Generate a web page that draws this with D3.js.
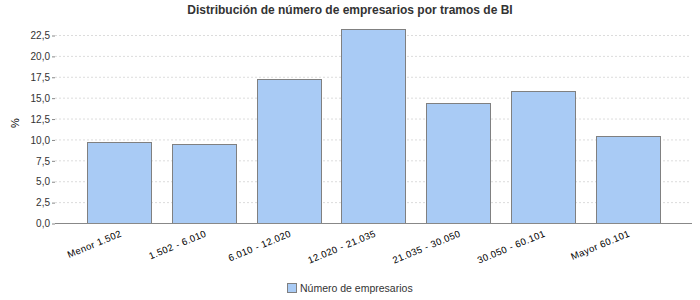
<!DOCTYPE html>
<html>
<head>
<meta charset="utf-8">
<script src="https://cdn.jsdelivr.net/npm/d3@7"></script>
<style>
  body { margin: 0; background: #fff; }
  text { font-family: "Liberation Sans", Arial, sans-serif; }
</style>
</head>
<body>
<div id="chart-area"></div>
<script>
// Data
const categories = ["Menor 1.502", "1.502 - 6.010", "6.010 - 12.020", "12.020 - 21.035",
                    "21.035 - 30.050", "30.050 - 60.101", "Mayor 60.101"];
const values = [9.66, 9.42, 17.2, 23.18, 14.33, 15.8, 10.41];
const yTicks = [0, 2.5, 5, 7.5, 10, 12.5, 15, 17.5, 20, 22.5];
const seriesName = "Número de empresarios";

// Dimensions
const W = 700, H = 300;
const plot = { left: 55, right: 692, top: 24, bottom: 223 };

const svg = d3.select("#chart-area")
    .append("svg")
        .attr("width", W)
        .attr("height", H);

// Scales
const x = d3.scaleBand()
    .domain(categories)
    .range([plot.left, plot.right])
    .paddingInner(0.244)
    .paddingOuter(0.382);

// 22.5 at y=35, 0 at y=223
const y = d3.scaleLinear()
    .domain([0, 22.5])
    .range([plot.bottom, 35]);

// Grid
svg.append("g")
    .selectAll("line")
    .data(yTicks.filter(d => d > 0))
    .enter().append("line")
        .attr("x1", plot.left)
        .attr("x2", plot.right - 1)
        .attr("y1", d => y(d) + 0.5)
        .attr("y2", d => y(d) + 0.5)
        .attr("stroke", "#dcdcdc")
        .attr("stroke-dasharray", "2,2");

// Bars
svg.append("g")
    .selectAll("rect")
    .data(values)
    .enter().append("rect")
        .attr("x", (d, i) => Math.round(x(categories[i])) + 0.5)
        .attr("y", d => Math.round(y(d)) + 0.5)
        .attr("width", Math.round(x.bandwidth()))
        .attr("height", d => Math.round(y(0)) - Math.round(y(d)))
        .attr("fill", "#a9cbf5")
        .attr("stroke", "#808080")
        .attr("stroke-width", 1);

// Y axis
const yAxis = svg.append("g")
    .attr("transform", "translate(" + plot.left + ",0.5)")
    .call(d3.axisLeft(y)
        .tickValues(yTicks)
        .tickSize(3)
        .tickPadding(2)
        .tickFormat(d => d3.format(".1f")(d).replace(".", ",")));
yAxis.select(".domain").remove();
yAxis.selectAll("line").attr("stroke", "#888");
yAxis.selectAll("text").attr("font-size", "10px").attr("fill", "#333");

// X axis line
svg.append("line")
    .attr("x1", plot.left)
    .attr("x2", plot.right)
    .attr("y1", plot.bottom + 0.5)
    .attr("y2", plot.bottom + 0.5)
    .attr("stroke", "#888");

// X labels, rotated
svg.append("g")
    .selectAll("text")
    .data(categories)
    .enter().append("text")
        .attr("transform", d => "translate(" + (x(d) + x.bandwidth() / 2 + 3) + "," + (plot.bottom + 13) + ") rotate(-22.5)")
        .attr("text-anchor", "end")
        .attr("font-size", "9.5px")
        .attr("letter-spacing", "0.4px")
        .attr("fill", "#000")
        .text(d => d);

// Y label
svg.append("text")
    .attr("transform", "translate(19,123) rotate(-90)")
    .attr("text-anchor", "middle")
    .attr("font-size", "11px")
    .attr("fill", "#000")
    .text("%");

// Title
svg.append("text")
    .attr("x", 350)
    .attr("y", 14)
    .attr("text-anchor", "middle")
    .attr("font-size", "12px")
    .attr("font-weight", "bold")
    .attr("fill", "#333")
    .text("Distribución de número de empresarios por tramos de BI");

// Legend
const legend = svg.append("g").attr("transform", "translate(287,283)");
legend.append("rect")
    .attr("x", 0.5).attr("y", 0.5)
    .attr("width", 9).attr("height", 9)
    .attr("fill", "#a9cbf5")
    .attr("stroke", "#808080");
legend.append("text")
    .attr("x", 13)
    .attr("y", 9)
    .attr("font-size", "10.5px")
    .attr("fill", "#333")
    .text(seriesName);
</script>
</body>
</html>
